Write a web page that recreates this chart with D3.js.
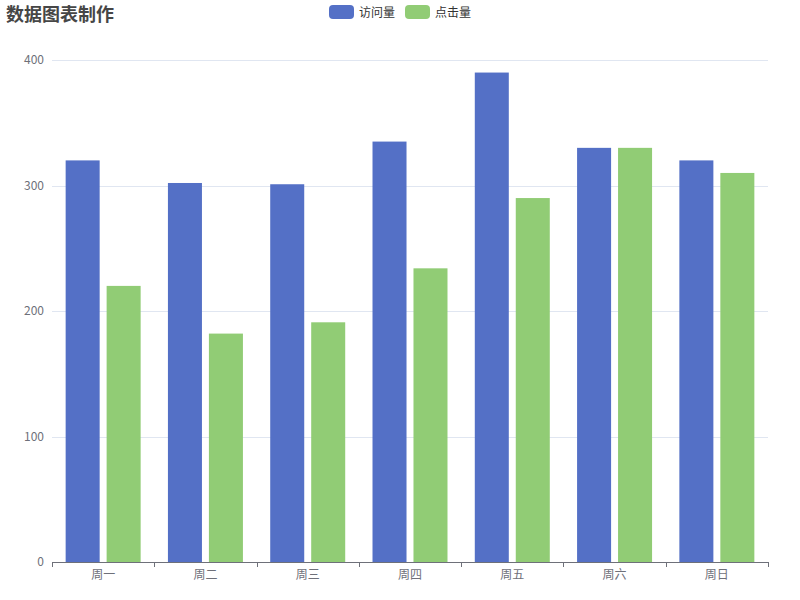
<!DOCTYPE html>
<html><head><meta charset="utf-8">
<script src="https://cdn.jsdelivr.net/npm/d3@7"></script>
<style>body{margin:0;background:#fff}svg{display:block}text{font-family:"Noto Sans CJK SC","Noto Sans",sans-serif}</style>
</head><body><svg id="c" width="800" height="600"></svg>
<script>
const categories = ["周一","周二","周三","周四","周五","周六","周日"];
const visits = [320, 302, 301, 335, 390, 330, 320];
const clicks = [220, 182, 191, 234, 290, 330, 310];
const seriesNames = ["访问量","点击量"];
const colors = ["#5470c6","#91cc75"];
const yTicks = [0,100,200,300,400];

const svg = d3.select("#c");
const L=52,R=768,T=60,B=562;
const x = d3.scaleBand().domain(categories).range([L,R]).paddingInner(0).paddingOuter(0);
const y = d3.scaleLinear().domain([0,400]).range([B,T]);
const inner = d3.scaleBand().domain([0,1]).range([0,x.bandwidth()]).paddingInner(0.17).paddingOuter(0.333);

// grid
svg.append("g").selectAll("line").data(yTicks.filter(d=>d>0)).join("line")
  .attr("x1",L).attr("x2",R).attr("y1",d=>Math.round(y(d))+0.5).attr("y2",d=>Math.round(y(d))+0.5)
  .attr("stroke","#e0e6f1").attr("stroke-width",1);

// y axis labels
const ya = svg.append("g").attr("transform",`translate(${L},0)`)
  .call(d3.axisLeft(y).tickValues(yTicks).tickSize(0).tickPadding(8));
ya.select(".domain").remove();
ya.selectAll("text").attr("fill","#6e7079").attr("font-size",12);

// bars
const data = [visits, clicks];
data.forEach((vals,si)=>{
  svg.append("g").selectAll("rect").data(vals).join("rect")
    .attr("x",(d,i)=>x(categories[i])+inner(si))
    .attr("width",inner.bandwidth())
    .attr("y",d=>y(d)).attr("height",d=>B-y(d))
    .attr("fill",colors[si]);
});

// x axis
const xa = svg.append("g").attr("transform",`translate(0,${B})`)
  .call(d3.axisBottom(x).tickSize(0).tickPadding(8));
xa.select(".domain").attr("stroke","#6e7079").attr("d",`M${L},0.5H${R}`);
xa.selectAll("text").attr("fill","#6e7079").attr("font-size",12);
svg.append("g").selectAll("line").data(d3.range(categories.length+1)).join("line")
  .attr("x1",i=>Math.round(L+i*x.step())+0.5).attr("x2",i=>Math.round(L+i*x.step())+0.5)
  .attr("y1",B).attr("y2",B+5).attr("stroke","#6e7079");

// title
svg.append("text").attr("x",6).attr("y",20.5).attr("font-size",18).attr("font-weight","bold")
  .attr("fill","#464646").text("数据图表制作");

// legend
const lg = svg.append("g");
const lx=[329,405];
seriesNames.forEach((n,i)=>{
  lg.append("rect").attr("x",lx[i]).attr("y",5).attr("width",25).attr("height",14).attr("rx",4).attr("fill",colors[i]);
  lg.append("text").attr("x",lx[i]+30).attr("y",16.5).attr("font-size",12).attr("fill","#333").text(n);
});
</script></body></html>
